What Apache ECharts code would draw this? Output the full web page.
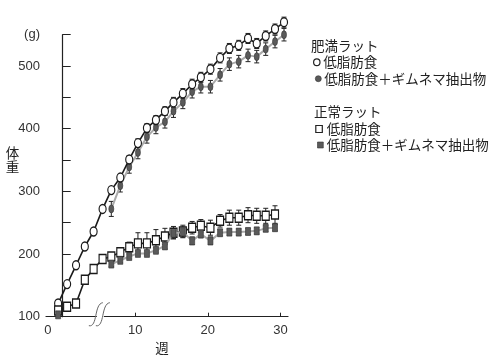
<!DOCTYPE html>
<html><head><meta charset="utf-8">
<script src="https://cdn.jsdelivr.net/npm/echarts@6/dist/echarts.min.js"></script>
<style>html,body{margin:0;padding:0;background:#fff}#c{width:500px;height:364px}</style>
</head><body><div id="c"></div>
<script>
// x positions (weeks, read against the post-break axis scale)
const weekPos = [-0.63,0.61,1.84,3.05,4.26,5.50,6.70,7.94,9.17,10.37,11.61,12.85,14.09,15.27,16.56,17.84,19.04,20.36,21.69,22.97,24.26,25.54,26.74,27.98,29.26,30.50];
// 肥満ラット 低脂肪食 (open circles)
const obeseLow = [121,152,182,212,236,272,302,322,351,377,401,414,428,442,456,471,482,495,513,528,533,544,536,548,559,570];
const obeseLowErr = [0,0,0,0,0,0,4,5,6,7,7,7,7,8,8,8,8,8,8,8,8,8,8,8,8,8];
// 肥満ラット 低脂肪食＋ギムネマ抽出物 (filled circles)
const obeseGym = [null,null,null,null,null,null,272,309,339,362,387,402,411,428,442,459,467,467,486,503,507,517,515,527,539,550];
const obeseGymErr = [0,0,0,0,0,0,12,10,10,10,10,10,10,10,10,10,10,10,10,10,10,10,10,10,10,10];
// 正常ラット 低脂肪食 (open squares)
const normalLow = [110,116,121,159,176,192,196,203,211,217,217,222,228,234,236,242,245,242,253,258,258,262,261,261,263];
const normalLowErr = [0,0,0,0,0,3,5,5,8,17,17,17,13,10,10,10,10,12,10,12,12,12,12,12,14];
// 正常ラット 低脂肪食＋ギムネマ抽出物 (filled squares)
const normalGym = [103,null,null,null,null,null,184,190,196,201,201,206,213,233,235,221,232,221,234,235,235,236,237,241,242];
const normalGymErr = [0,0,0,0,0,0,4,4,4,4,4,4,5,8,8,6,6,6,5,5,5,5,5,5,5];

const xLabelPos = [-2.05, 10, 20, 30];
const xLabelText = ['0', '10', '20', '30'];
const xTickPos = [10, 20, 30];
const breakAt = 5.19;

const LAT = 'Liberation Sans, Arial, sans-serif';
const JP = '"Noto Sans CJK JP", sans-serif';

function errSeries(vals, errs, z) {
  const data = [];
  vals.forEach((v, i) => { if (v != null && errs[i] > 0) data.push([weekPos[i], v - errs[i], v + errs[i]]); });
  return {
    type: 'custom', z: z, silent: true, animation: false, clip: false, data: data,
    encode: { x: 0, y: [1, 2] },
    renderItem: function (params, api) {
      const x = api.value(0);
      const lo = api.coord([x, api.value(1)]);
      const hi = api.coord([x, api.value(2)]);
      const w = 2.5, st = { stroke: '#222', lineWidth: 1 };
      return { type: 'group', children: [
        { type: 'line', shape: { x1: lo[0], y1: lo[1], x2: hi[0], y2: hi[1] }, style: st },
        { type: 'line', shape: { x1: hi[0] - w, y1: hi[1], x2: hi[0] + w, y2: hi[1] }, style: st },
        { type: 'line', shape: { x1: lo[0] - w, y1: lo[1], x2: lo[0] + w, y2: lo[1] }, style: st }
      ]};
    }
  };
}
function lineSeries(name, vals, opt) {
  return Object.assign({
    name: name, type: 'line', animation: false, connectNulls: false, clip: false,
    data: vals.map((v, i) => [weekPos[i], v == null ? '-' : v])
  }, opt);
}

const chart = echarts.init(document.getElementById('c'), null, { renderer: 'canvas' });
chart.setOption({
  backgroundColor: '#fff',
  animation: false,
  grid: { left: 46, right: 212, top: 34.7, bottom: 47.3 },
  xAxis: {
    type: 'value', min: -2.3, max: 31.05,
    axisLine: { lineStyle: { color: '#222', width: 1.2 } },
    axisTick: { inside: true, length: 4, customValues: xTickPos, lineStyle: { color: '#222' } },
    axisLabel: { customValues: xLabelPos, margin: 7, fontSize: 13, color: '#333', fontFamily: LAT,
      formatter: function (v) { const i = xLabelPos.indexOf(v); return i >= 0 ? xLabelText[i] : ''; } },
    splitLine: { show: false },
    name: '週', nameLocation: 'middle', nameGap: 21,
    nameTextStyle: { fontSize: 13.5, fontFamily: JP, color: '#222', padding: [0, 10, 0, 0] }
  },
  yAxis: {
    type: 'value', min: 100, max: 550, interval: 50,
    axisLine: { show: true, lineStyle: { color: '#222', width: 1.2 } },
    axisTick: { show: true, inside: true, length: 8, lineStyle: { color: '#222' } },
    axisLabel: { margin: 6, fontSize: 13, color: '#333', fontFamily: LAT,
      formatter: function (v) { return v === 550 ? '(g)' : (v % 100 === 0 ? String(v) : ''); } },
    splitLine: { show: false }
  },
  series: [
    errSeries(obeseLow, obeseLowErr, 2),
    errSeries(obeseGym, obeseGymErr, 2),
    errSeries(normalLow, normalLowErr, 2),
    errSeries(normalGym, normalGymErr, 2),
    lineSeries('肥満 低脂肪食＋ギムネマ抽出物', obeseGym, {
      z: 3, lineStyle: { color: '#aaa', width: 2 }, symbol: 'circle', symbolSize: [5, 8],
      itemStyle: { color: '#5a5a5a', borderColor: '#333', borderWidth: 0.6 } }),
    lineSeries('肥満 低脂肪食', obeseLow, {
      z: 4, lineStyle: { color: '#1a1a1a', width: 1.6 }, symbol: 'circle', symbolSize: [7, 9],
      itemStyle: { color: '#fff', borderColor: '#1a1a1a', borderWidth: 1.3 } }),
    lineSeries('正常 低脂肪食', normalLow, {
      z: 4, lineStyle: { color: '#1a1a1a', width: 1.6 }, symbol: 'rect', symbolSize: [7, 9],
      itemStyle: { color: '#fff', borderColor: '#1a1a1a', borderWidth: 1.3 } }),
    lineSeries('正常 低脂肪食＋ギムネマ抽出物', normalGym, {
      z: 5, lineStyle: { color: '#aaa', width: 2 }, symbol: 'rect', symbolSize: [5, 8],
      itemStyle: { color: '#5a5a5a', borderColor: '#333', borderWidth: 0.6 } })
  ]
});

const p = chart.convertToPixel({ xAxisIndex: 0, yAxisIndex: 0 }, [breakAt, 100]);
function breakCurve(d) {
  const x = p[0] + d, y = p[1];
  return { type: 'bezierCurve', z: 10, shape: { x1: x - 8, y1: y + 9, cpx1: x + 1, cpy1: y + 11, cpx2: x - 3, cpy2: y - 13, x2: x + 6, y2: y - 14 },
    style: { stroke: '#666', lineWidth: 1, fill: null } };
}
const txt = (s, x, y, extra) => Object.assign({ type: 'text', z: 10, x: x, y: y,
  style: { text: s, fontSize: 13.5, fontFamily: JP, fill: '#222', verticalAlign: 'middle', align: 'left' } }, extra || {});

chart.setOption({
  graphic: [
    { type: 'rect', z: 9, shape: { x: p[0] - 3.5, y: p[1] - 2, width: 7, height: 4 }, style: { fill: '#fff' } },
    breakCurve(-3.5), breakCurve(3.5),
    { type: 'text', z: 10, x: 12.5, y: 160, style: { text: '体\n重', fontSize: 13.5, lineHeight: 13.5, fontFamily: JP, fill: '#222', align: 'center', verticalAlign: 'middle' } },
    txt('肥満ラット', 311, 45.5),
    { type: 'ellipse', z: 10, shape: { cx: 316.8, cy: 62.3, rx: 3.2, ry: 3.4 }, style: { fill: '#fff', stroke: '#222', lineWidth: 1.2 } },
    txt('低脂肪食', 323.3, 62.3),
    { type: 'circle', z: 10, shape: { cx: 318.3, cy: 78.7, r: 3 }, style: { fill: '#5a5a5a', stroke: '#333', lineWidth: 0.6 } },
    txt('低脂肪食＋ギムネマ抽出物', 324.3, 78.7),
    txt('正常ラット', 314, 111.7),
    { type: 'rect', z: 10, shape: { x: 315.8, y: 125.5, width: 6.5, height: 7 }, style: { fill: '#fff', stroke: '#222', lineWidth: 1.2 } },
    txt('低脂肪食', 326.7, 129),
    { type: 'rect', z: 10, shape: { x: 317.5, y: 142, width: 5.8, height: 6 }, style: { fill: '#5a5a5a', stroke: '#333', lineWidth: 0.6 } },
    txt('低脂肪食＋ギムネマ抽出物', 326.7, 145)
  ]
});
</script></body></html>
